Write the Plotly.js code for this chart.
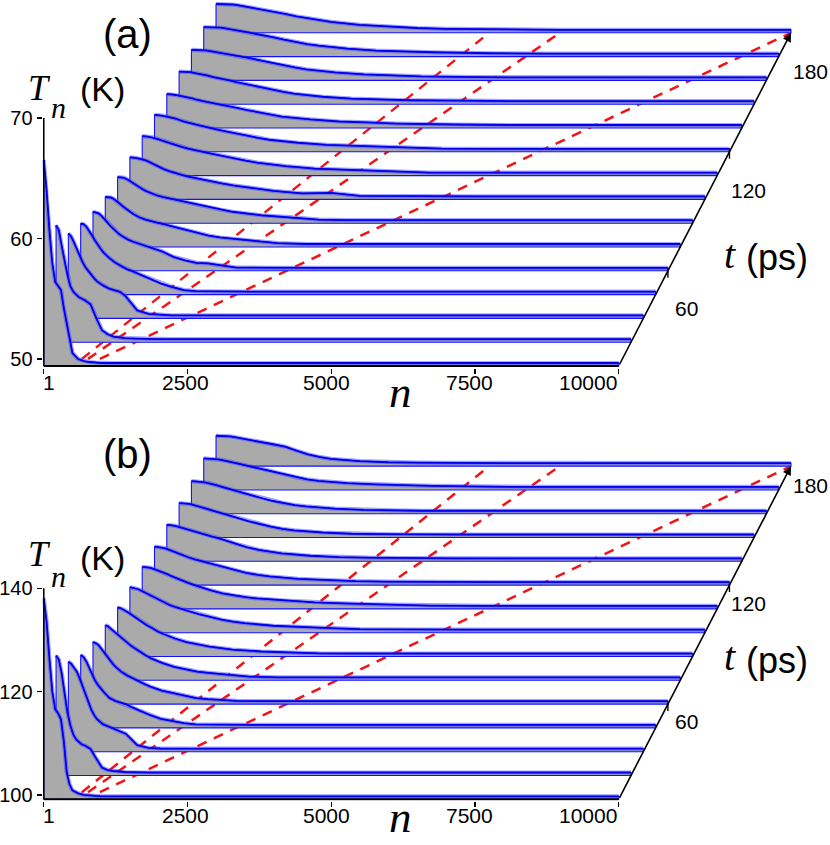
<!DOCTYPE html>
<html><head><meta charset="utf-8">
<script src="https://cdn.plot.ly/plotly-3.0.1.min.js"></script>
<style>html,body{margin:0;padding:0;background:#fff}#chart{width:830px;height:845px}</style>
</head><body><div id="chart"></div>
<script>
// ---------- data ----------
const tValues = [12,24,36,48,60,72,84,96,108,120,132,144,156,168,180]; // ps
const nGrid = [1,50,100,150,200,250,300,350,400,450,500,600,700,800,900,1000,1200,1400,1600,1800,2000,2500,3000,3500,4000,5000,6000,10000];

// panel (a): T_n (K), one row per time
const tempA = [
 [66.52,64.03,60.62,57.97,56.39,56.06,55.73,54.23,52.91,51.49,50.50,50.00,49.83,49.75,49.71,49.67,49.67,49.67,49.67,49.67,49.67,49.67,49.67,49.67,49.67,49.67,49.67,49.67],
 [59.13,58.71,57.39,56.14,54.98,54.07,53.61,53.36,53.15,53.03,52.91,52.57,51.41,50.42,50.08,49.88,49.75,49.71,49.67,49.67,49.67,49.67,49.67,49.67,49.67,49.67,49.67,49.67],
 [56.47,56.22,55.73,55.15,54.57,54.07,53.65,53.32,53.03,52.74,52.49,52.16,51.91,51.74,51.62,51.25,50.08,49.79,49.71,49.67,49.67,49.67,49.67,49.67,49.67,49.67,49.67,49.67],
 [55.31,55.27,55.06,54.73,54.32,53.90,53.53,53.20,52.91,52.66,52.45,52.08,51.79,51.54,51.37,51.16,50.79,50.33,50.04,49.79,49.71,49.67,49.67,49.67,49.67,49.67,49.67,49.67],
 [54.32,54.27,54.19,53.98,53.74,53.44,53.15,52.91,52.70,52.49,52.32,52.03,51.83,51.66,51.49,51.37,51.04,50.58,50.29,50.08,50.04,49.69,49.67,49.67,49.67,49.67,49.67,49.67],
 [53.57,53.57,53.53,53.40,53.24,53.03,52.82,52.62,52.45,52.28,52.12,51.87,51.70,51.54,51.44,51.33,51.08,50.83,50.58,50.37,50.21,49.96,49.74,49.67,49.67,49.67,49.67,49.67],
 [53.24,53.24,53.20,53.11,52.99,52.82,52.66,52.49,52.32,52.20,52.08,51.87,51.70,51.58,51.48,51.37,51.16,50.96,50.75,50.54,50.37,50.08,49.92,49.71,49.67,49.67,49.67,49.67],
 [52.91,52.91,52.86,52.82,52.78,52.70,52.62,52.49,52.37,52.24,52.12,51.91,51.74,51.58,51.45,51.33,51.12,50.91,50.75,50.58,50.46,50.13,49.92,49.96,49.71,49.67,49.67,49.67],
 [52.70,52.70,52.66,52.62,52.57,52.49,52.41,52.32,52.24,52.16,52.08,51.91,51.79,51.66,51.54,51.45,51.25,51.04,50.83,50.66,50.50,50.21,50.00,49.92,49.83,49.67,49.67,49.67],
 [52.49,52.49,52.45,52.41,52.37,52.32,52.24,52.20,52.12,52.03,51.95,51.83,51.70,51.58,51.45,51.37,51.16,50.96,50.75,50.58,50.42,50.17,50.00,49.92,49.83,49.69,49.67,49.67],
 [52.24,52.24,52.20,52.16,52.12,52.08,52.03,51.99,51.95,51.87,51.79,51.66,51.58,51.49,51.41,51.33,51.12,50.91,50.71,50.54,50.37,50.13,49.96,49.88,49.79,49.71,49.67,49.67],
 [52.12,52.12,52.12,52.08,52.08,52.03,51.99,51.95,51.91,51.83,51.79,51.66,51.58,51.45,51.37,51.25,51.04,50.83,50.62,50.46,50.29,50.04,49.88,49.79,49.75,49.71,49.67,49.67],
 [51.95,51.95,51.95,51.95,51.91,51.91,51.87,51.83,51.79,51.74,51.70,51.62,51.54,51.45,51.37,51.29,51.08,50.87,50.66,50.50,50.33,50.08,49.92,49.83,49.75,49.69,49.67,49.67],
 [51.87,51.87,51.87,51.87,51.87,51.83,51.83,51.79,51.74,51.70,51.66,51.58,51.49,51.41,51.33,51.25,51.04,50.83,50.62,50.46,50.33,50.08,49.92,49.83,49.78,49.70,49.67,49.67],
 [51.81,51.81,51.81,51.81,51.80,51.79,51.77,51.74,51.70,51.66,51.62,51.54,51.45,51.35,51.26,51.16,51.00,50.79,50.62,50.46,50.33,50.08,49.92,49.82,49.75,49.69,49.67,49.67]
];

// panel (b): T_n (K), one row per time
const tempB = [
 [138.04,133.60,126.25,120.06,116.58,115.80,114.64,110.39,104.39,102.07,100.91,100.33,100.04,99.94,99.85,99.75,99.75,99.75,99.75,99.75,99.75,99.75,99.75,99.75,99.75,99.75,99.75,99.75],
 [122.38,121.60,118.90,114.84,111.35,108.84,107.10,106.13,105.55,105.17,104.97,104.30,102.46,100.72,100.23,100.04,99.85,99.75,99.75,99.75,99.75,99.75,99.75,99.75,99.75,99.75,99.75,99.75],
 [116.58,116.19,115.42,114.64,113.29,111.74,110.00,108.45,107.29,106.23,105.46,104.49,104.01,103.62,103.13,102.65,100.43,99.90,99.79,99.75,99.75,99.75,99.75,99.75,99.75,99.75,99.75,99.75],
 [113.29,112.90,112.03,110.77,109.42,108.36,107.49,106.71,106.13,105.55,104.97,104.39,104.01,103.71,103.13,102.65,101.68,100.91,100.52,100.08,99.85,99.75,99.75,99.75,99.75,99.75,99.75,99.75],
 [111.16,110.97,110.58,109.81,109.03,108.26,107.49,106.91,106.33,105.84,105.36,104.68,104.10,103.62,103.04,102.55,101.78,101.30,100.81,100.33,100.14,99.79,99.75,99.75,99.75,99.75,99.75,99.75],
 [109.81,109.61,109.13,108.65,108.07,107.68,107.20,106.71,106.23,105.84,105.46,104.68,104.01,103.42,102.94,102.50,101.78,101.26,100.85,100.60,100.39,99.89,99.75,99.75,99.75,99.75,99.75,99.75],
 [108.65,108.55,108.26,107.97,107.58,107.20,106.81,106.42,106.04,105.65,105.26,104.68,104.01,103.52,103.04,102.65,101.97,101.49,101.10,100.81,100.52,100.14,99.94,99.79,99.75,99.75,99.75,99.75],
 [107.97,107.87,107.78,107.58,107.29,107.00,106.71,106.42,106.13,105.84,105.55,104.97,104.49,104.10,103.81,103.42,102.75,102.17,101.68,101.30,101.01,100.52,100.23,100.04,99.85,99.75,99.75,99.75],
 [107.29,107.29,107.20,107.10,106.91,106.71,106.52,106.33,106.04,105.84,105.55,105.07,104.59,104.20,103.81,103.42,102.75,102.17,101.74,101.45,101.20,100.76,100.45,100.25,100.06,99.81,99.75,99.75],
 [106.62,106.58,106.52,106.38,106.23,106.00,105.75,105.55,105.32,105.11,104.89,104.51,104.16,103.87,103.62,103.33,102.65,102.03,101.53,101.16,100.87,100.39,100.10,99.94,99.85,99.75,99.75,99.75],
 [106.23,106.21,106.13,106.02,105.86,105.71,105.55,105.36,105.17,104.97,104.78,104.45,104.16,103.91,103.66,103.33,102.55,101.88,101.39,101.01,100.72,100.25,99.98,99.87,99.81,99.75,99.75,99.75],
 [105.84,105.82,105.78,105.71,105.61,105.47,105.34,105.17,105.01,104.84,104.66,104.31,104.01,103.71,103.39,103.04,102.36,101.74,101.26,100.85,100.56,100.14,99.90,99.81,99.75,99.75,99.75,99.75],
 [105.49,105.47,105.44,105.38,105.30,105.20,105.09,104.95,104.80,104.64,104.47,104.14,103.81,103.50,103.19,102.88,102.26,101.68,101.22,100.85,100.58,100.14,99.90,99.81,99.75,99.75,99.75,99.75],
 [105.28,105.26,105.24,105.20,105.15,105.07,104.99,104.89,104.78,104.64,104.51,104.24,103.99,103.75,103.52,103.27,102.75,102.17,101.65,101.22,100.91,100.49,100.23,100.08,99.94,99.79,99.75,99.75],
 [105.05,105.05,105.03,105.01,104.97,104.91,104.84,104.74,104.62,104.51,104.39,104.20,104.01,103.85,103.68,103.48,102.94,102.17,101.45,100.95,100.58,100.14,99.92,99.85,99.79,99.75,99.75,99.75]
];

// red dashed fronts in the (n, t) floor plane
const frontStartN = [600, 706, 913];
const frontEndN   = [4751, 5980, 10000];
const frontT      = [15.6, 180];

const xTickVals = [1, 2500, 5000, 7500, 10000];
const xTickText = ['1', '2500', '5000', '7500', '10000'];
const tTickVals = [60, 120, 180];
const yTicksA = [50, 60, 70];
const yTicksB = [100, 120, 140];

// ---------- drawing ----------
const W = 830, H = 845;
const SANS = 'Liberation Sans, Arial, sans-serif';
const SERIF = 'Liberation Serif, Times New Roman, serif';
const nMax = 10000;
const dxStep = 214;          // horizontal shift (in n) per time step
const stepT = 12;

const panels = [
  {rows: tempA, floor: 49.42, dy: 1.975, pxK: 12.05, xa: 'x',  ya: 'y',  ytop: 70},
  {rows: tempB, floor: 99.17, dy: 4.603, pxK: 5.17,  xa: 'x2', ya: 'y2', ytop: 140}
];

function sx(n, t) { return n + (t - tValues[0]) / stepT * dxStep; }
function sy(p, T, t) { return T + (t - tValues[0]) / stepT * p.dy; }

const traces = [];
const shapes = [];
const annotations = [];

panels.forEach(p => {
  // red fronts (behind everything)
  for (let j = 0; j < frontStartN.length; j++) {
    traces.push({
      type: 'scatter', mode: 'lines', xaxis: p.xa, yaxis: p.ya,
      x: [sx(frontStartN[j], frontT[0]), sx(frontEndN[j], frontT[1])],
      y: [sy(p, p.floor, frontT[0]), sy(p, p.floor, frontT[1])],
      line: {color: '#f01414', width: 2.5, dash: '10px,8px'},
      hoverinfo: 'skip'
    });
  }
  // curves, back to front
  for (let k = tValues.length - 1; k >= 0; k--) {
    const t = tValues[k];
    const row = p.rows[k];
    const base = sy(p, p.floor, t);
    const cx = nGrid.map(n => sx(n, t));
    const cy = row.map(T => sy(p, T, t));
    traces.push({
      type: 'scatter', mode: 'lines', xaxis: p.xa, yaxis: p.ya,
      x: [sx(1, t)].concat(cx, [sx(nMax, t), sx(1, t)]),
      y: [base].concat(cy, [base, base]),
      fill: 'toself', fillcolor: '#aaaaaa',
      line: {color: '#1010ff', width: 1.1},
      hoverinfo: 'skip'
    });
    traces.push({
      type: 'scatter', mode: 'lines', xaxis: p.xa, yaxis: p.ya,
      x: cx, y: cy, line: {color: 'rgba(70,70,255,0.5)', width: 4.2},
      hoverinfo: 'skip'
    });
    traces.push({
      type: 'scatter', mode: 'lines', xaxis: p.xa, yaxis: p.ya,
      x: cx, y: cy, line: {color: '#0000ee', width: 1.8},
      hoverinfo: 'skip'
    });
  }
  // axis lines
  shapes.push({type: 'line', xref: p.xa, yref: p.ya, x0: 1, x1: nMax, y0: p.floor, y1: p.floor,
               line: {color: '#000', width: 2}, layer: 'above'});
  shapes.push({type: 'line', xref: p.xa, yref: p.ya, x0: 1, x1: 1, y0: p.floor, y1: p.ytop,
               line: {color: '#000', width: 1.6}, layer: 'above'});
  // t-axis ticks
  tTickVals.slice(0, 2).forEach(tt => {
    const y0 = sy(p, p.floor, tt);
    shapes.push({type: 'line', xref: p.xa, yref: p.ya, x0: sx(nMax, tt), x1: sx(nMax, tt),
                 y0: y0 + 2 / p.pxK, y1: y0 - 7 / p.pxK, line: {color: '#000', width: 1.4}, layer: 'above'});
  });
  // t-axis with arrow
  annotations.push({
    xref: p.xa, yref: p.ya, axref: p.xa, ayref: p.ya,
    x: sx(nMax, tValues[tValues.length - 1]), y: sy(p, p.floor, tValues[tValues.length - 1]),
    ax: sx(nMax, tValues[0]), ay: sy(p, p.floor, tValues[0]),
    text: '', showarrow: true, arrowhead: 2, arrowsize: 1.1, arrowwidth: 1.6,
    arrowcolor: '#000', standoff: 0
  });
});

// text labels (pixel positions converted to paper fractions)
function lab(text, px, py, size, family, yanchor) {
  annotations.push({xref: 'paper', yref: 'paper', x: px / W, y: 1 - py / H,
    xanchor: 'center', yanchor: yanchor || 'middle', showarrow: false, text: text,
    font: {family: family || SANS, size: size, color: '#000'}});
}
const panelLabels = [
  {tag: '(a)', tagY: 34, T: 88, sub: 107, K: 89, tt: 254.5, ps: 257, nT: 391.5, nAnchor: 'middle', tickY: 383,
   tl: [[686.7, 308.3], [748, 190], [810.5, 71.5]]},
  {tag: '(b)', tagY: 454.3, T: 554, sub: 576.6, K: 557.8, tt: 656.5, ps: 660, nT: 844, nAnchor: 'bottom', tickY: 815,
   tl: [[686.7, 721.7], [748.3, 603.3], [810, 485]]}
];
const xLabelPx = [48.5, 185, 326, 469.5, 588];
panelLabels.forEach(L => {
  lab(L.tag, 127, L.tagY, 40);
  lab('<i>T</i>', 39, L.T, 36, SERIF);
  lab('<i>n</i>', 58.5, L.sub, 30, SERIF);
  lab('(K)', 102, L.K, 34);
  lab('<i>t</i>', 729.5, L.tt, 40, SERIF);
  lab('(ps)', 776.7, L.ps, 36);
  lab('<i>n</i>', 400, L.nT, 45, SERIF, L.nAnchor);
  tTickVals.forEach((v, i) => lab(String(v), L.tl[i][0], L.tl[i][1], 21));
  xTickText.forEach((s, i) => lab(s, xLabelPx[i], L.tickY, 21));
});

const xRange = [-20, 13153];
const xDomain = [42.55 / W, 800 / W];
function xAx(anchor) {
  return {domain: xDomain, range: xRange, anchor: anchor, tickvals: xTickVals, ticks: 'outside',
    ticklen: 5, tickwidth: 1.4, tickcolor: '#000', showticklabels: false,
    showgrid: false, zeroline: false, showline: false, fixedrange: true};
}
function yAx(anchor, domain, range, tv) {
  return {domain: domain, range: range, anchor: anchor, tickvals: tv, ticks: 'outside',
    ticklen: 5, tickwidth: 1.4, tickcolor: '#000',
    tickfont: {family: SANS, size: 20, color: '#000'},
    showgrid: false, zeroline: false, showline: false, fixedrange: true};
}

const layout = {
  width: W, height: H, margin: {l: 0, r: 0, t: 0, b: 0},
  paper_bgcolor: '#fff', plot_bgcolor: 'rgba(0,0,0,0)', showlegend: false, hovermode: false,
  font: {family: SANS, color: '#000'},
  xaxis: xAx('y'),
  yaxis: yAx('x', [1 - 367.5 / H, 1 - 2 / H], [49.2955, 79.627], yTicksA),
  xaxis2: xAx('y2'),
  yaxis2: yAx('x2', [1 - 800.8 / H, 1 - 430 / H], [98.88, 170.60], yTicksB),
  shapes: shapes, annotations: annotations
};

Plotly.newPlot('chart', traces, layout, {staticPlot: true, displayModeBar: false});
</script>
</body></html>
